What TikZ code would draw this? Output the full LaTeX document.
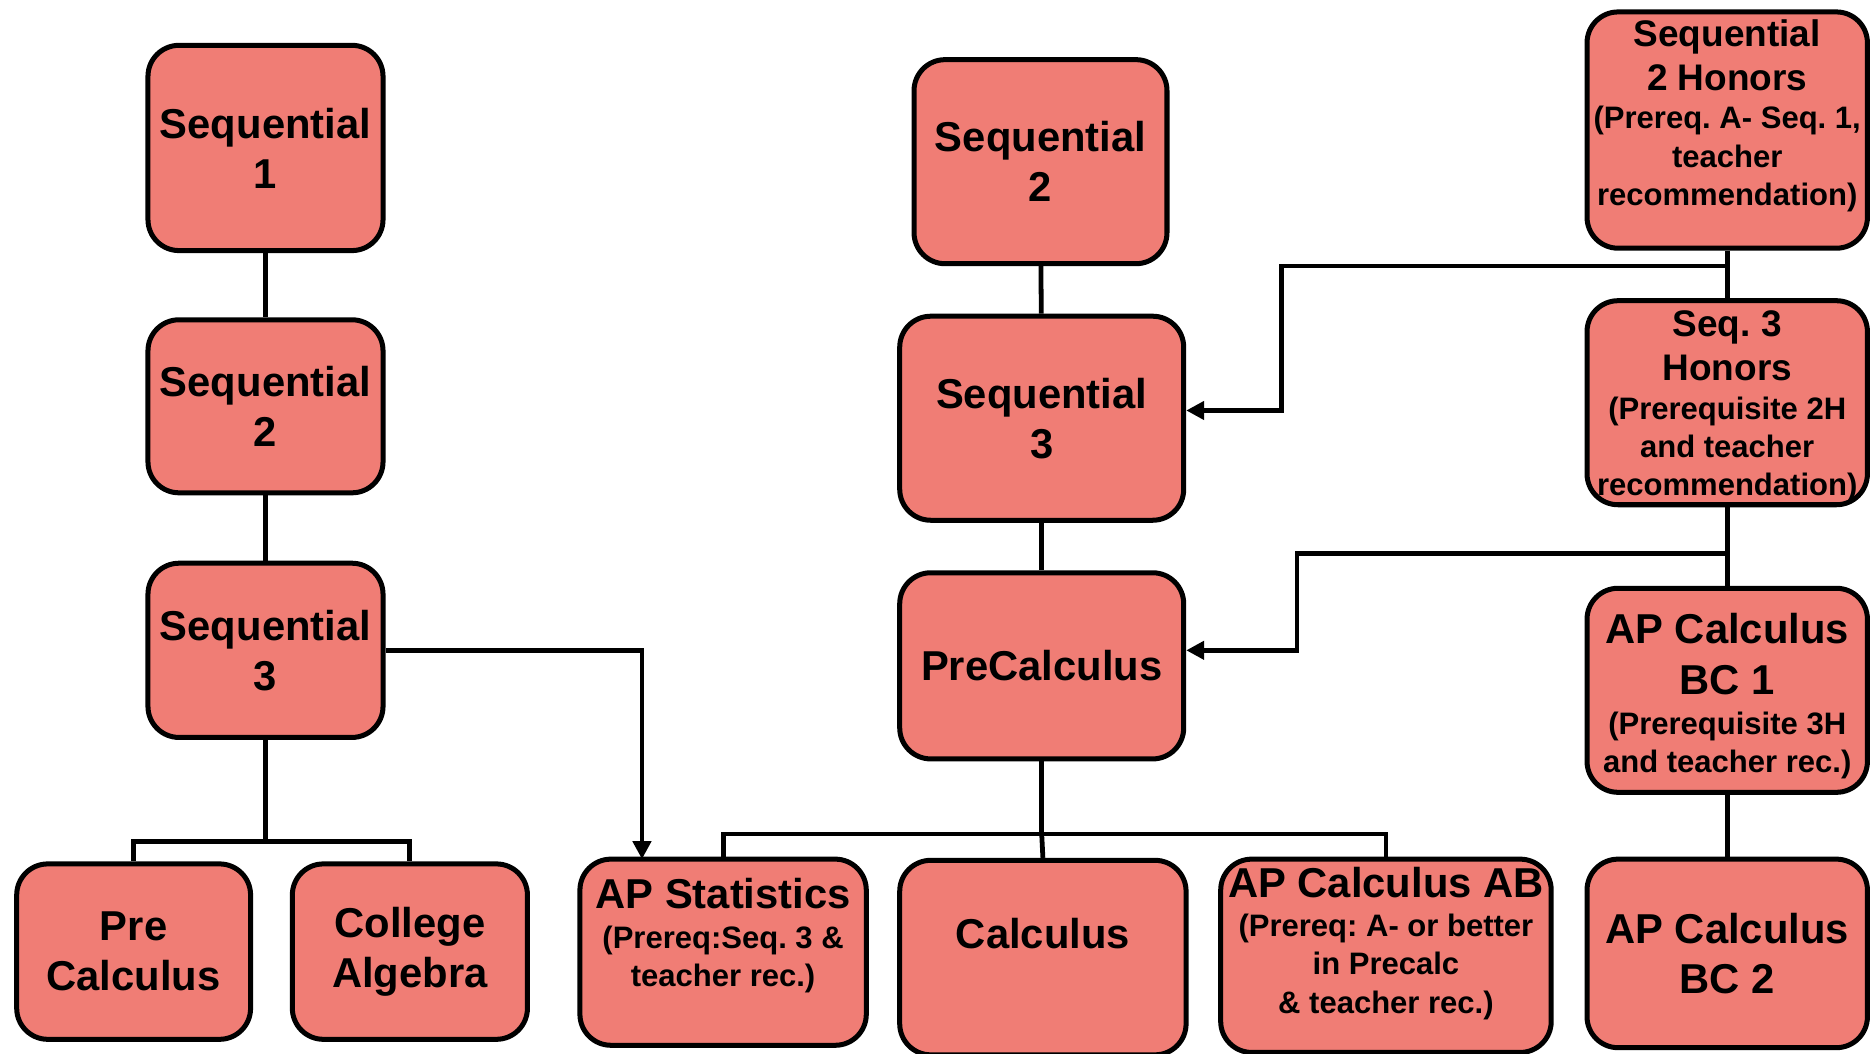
\documentclass[tikz,border=0pt]{standalone}
\usepackage{fontspec}
\setmainfont{Liberation Sans}
\usetikzlibrary{arrows.meta}
\definecolor{boxfill}{RGB}{240,125,117}
\newcommand\mainf{\fontsize{35}{42}\selectfont\bfseries\frenchspacing}
\newcommand\subf{\fontsize{26}{32}\selectfont\bfseries\frenchspacing}
\newcommand\honf{\fontsize{31}{37}\selectfont\bfseries\frenchspacing}
\begin{document}
\begin{tikzpicture}[x=1pt,y=-1pt,
  box/.style={draw=black,line width=4.2pt,fill=boxfill,rounded corners=26pt,inner sep=0pt,align=center,font=\mainf},
  conn/.style={draw=black,line width=4pt},
  arr/.style={conn,-{Triangle[length=15pt,width=15pt]}},
  lbl/.style={align=center,font=\mainf,inner sep=0pt}]
\useasboundingbox (0,0) rectangle (1568,883);

% left column
\node[box,minimum width=197pt,minimum height=172pt] (seq1) at (222.5,124) {Sequential\\1};
\node[box,minimum width=197pt,minimum height=145pt] (seq2L) at (222.5,340.5) {Sequential\\2};
\node[box,minimum width=197pt,minimum height=146pt] (seq3L) at (222.5,545) {Sequential\\3};
\node[box,minimum width=196pt,minimum height=147pt] (precalcL) at (112,797.5) {Pre\\Calculus};
\node[box,minimum width=197pt,minimum height=147pt] (college) at (343.5,797.5) {College\\Algebra};

% bottom row
\node[box,minimum width=240pt,minimum height=156pt,
  label={[lbl,name=apstatT,yshift=13.75pt]center:AP Statistics\\[-8.5pt]\subf (Prereq:Seq. 3 \&\\[-10pt]\subf teacher rec.)}] (apstat) at (606,798) {};
\node[box,minimum width=240pt,minimum height=163pt,
  label={[lbl,name=calcT,yshift=20pt]center:Calculus}] (calc) at (874,802.5) {};
\node[box,minimum width=277pt,minimum height=162pt,
  label={[lbl,name=apABT,yshift=10.25pt]center:AP Calculus AB\\[-9.5pt]\subf (Prereq: A- or better\\[-10pt]\subf in Precalc\\[-10pt]\subf \& teacher rec.)}] (apAB) at (1161.5,801) {};
\node[box,minimum width=235pt,minimum height=158pt] (bc2) at (1447.5,799) {AP Calculus\\BC 2};

% middle column
\node[box,minimum width=212pt,minimum height=171pt] (seq2M) at (872,135.5) {Sequential\\2};
\node[box,minimum width=238pt,minimum height=171pt] (seq3M) at (873,350.5) {Sequential\\3};
\node[box,minimum width=238pt,minimum height=156pt] (precalcM) at (873,558) {PreCalculus};

% right column
\node[box,minimum width=235pt,minimum height=198pt,
  label={[lbl,font=\honf,name=seq2HT,yshift=12pt]center:Sequential\\2 Honors\\[-5pt]\subf (Prereq. A- Seq. 1,\\[-5pt]\subf teacher\\[-5pt]\subf recommendation)}] (seq2H) at (1447.5,109) {};
\node[box,minimum width=235pt,minimum height=171pt,
  label={[lbl,font=\honf,name=seq3HT,yshift=-3pt]center:Seq. 3\\Honors\\[-4pt]\subf (Prerequisite 2H\\[-5pt]\subf and teacher\\[-5pt]\subf recommendation)}] (seq3H) at (1447.5,337.5) {};
\node[box,minimum width=235pt,minimum height=171pt,
  label={[lbl,name=bc1T,yshift=-5pt]center:AP Calculus\\[1pt]BC 1\\[-8.5pt]\subf (Prerequisite 3H\\[-10pt]\subf and teacher rec.)}] (bc1) at (1447.5,578.5) {};

% junction coordinates
\coordinate (bl) at (222.5,705);
\coordinate (bm) at (873,699);
\coordinate (hb1) at (1447.5,223);
\coordinate (jog1) at (1074,344);
\coordinate (hb2) at (1447.5,464);
\coordinate (jog2) at (1087,545);
\coordinate (statin) at (538,720);

% left connectors
\draw[conn] (seq1) -- (seq2L);
\draw[conn] (seq2L) -- (seq3L);
\draw[conn] (seq3L.south) -- (bl);
\draw[conn] (precalcL.north) |- (bl) -| (college.north);
\draw[arr] (seq3L.east) -| (statin);

% middle connectors
\draw[conn] (seq2M) -- (seq3M);
\draw[conn] (seq3M) -- (precalcM);
\draw[conn] (precalcM.south) -- (bm);
\draw[conn] (apstat.north) |- (bm) -| (apAB.north);
\draw[conn] (bm) -- (calc.north);

% right connectors
\draw[conn] (seq2H) -- (seq3H);
\draw[conn] (seq3H) -- (bc1);
\draw[conn] (bc1) -- (bc2);
\draw[arr] (hb1) -| (jog1) -- (jog1 -| seq3M.east);
\draw[arr] (hb2) -| (jog2) -- (jog2 -| precalcM.east);
\end{tikzpicture}
\end{document}
